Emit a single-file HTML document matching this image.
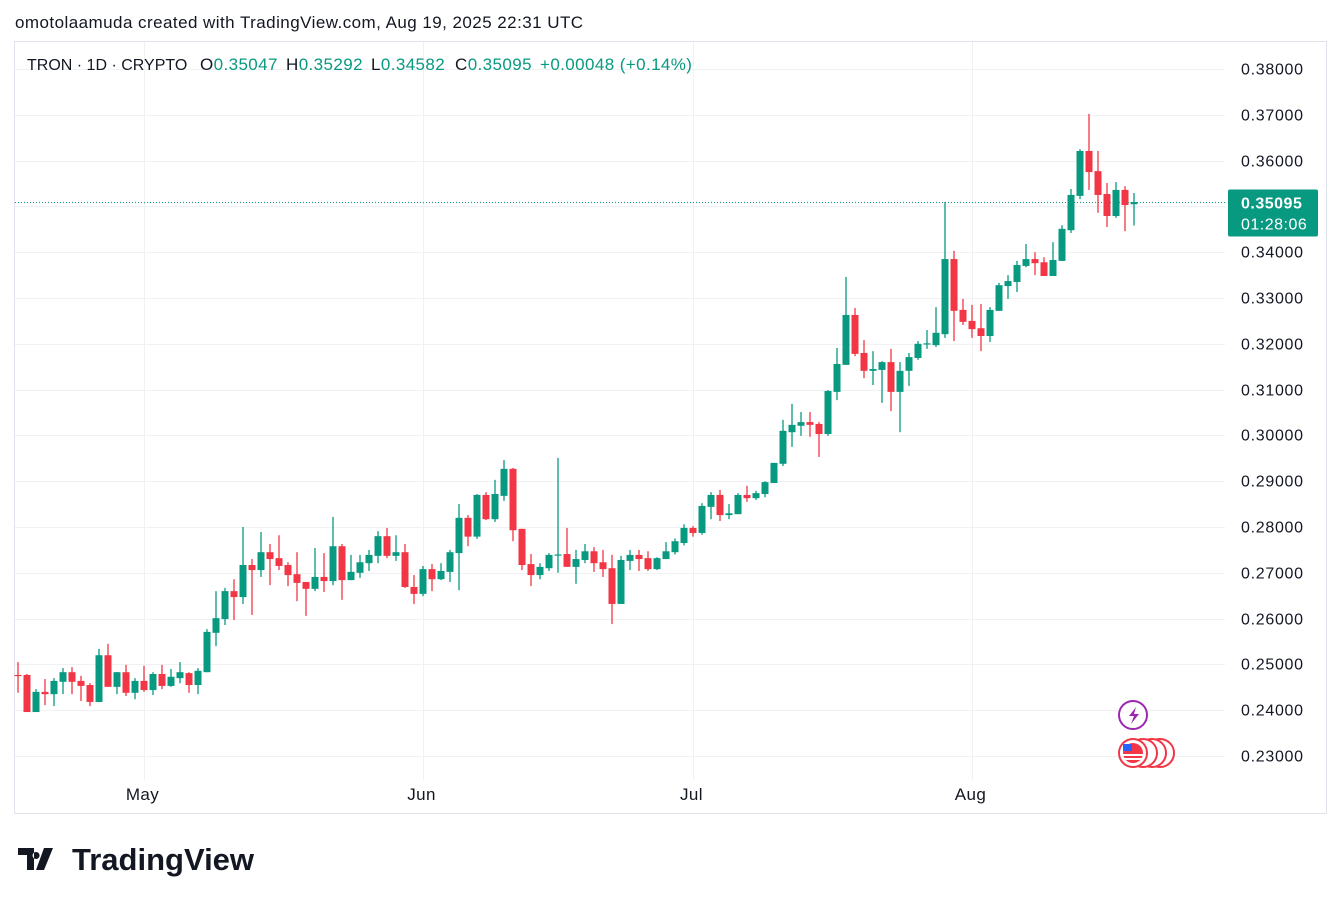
<!DOCTYPE html>
<html><head><meta charset="utf-8"><style>
body{margin:0;background:#fff;width:1341px;height:904px;overflow:hidden;font-family:"Liberation Sans",sans-serif}
svg{position:absolute;left:0;top:0}
</style></head><body>
<svg id="chart" width="1341" height="904" xmlns="http://www.w3.org/2000/svg" font-family="Liberation Sans, sans-serif">
<text x="15" y="28" font-size="17" letter-spacing="0.45" fill="#131722">omotolaamuda created with TradingView.com, Aug 19, 2025 22:31 UTC</text>
<rect x="14.5" y="41.5" width="1312" height="772" fill="none" stroke="#e0e3eb"/>
<g id="grid"></g>
<g id="candles"></g>
<g id="yaxis"></g>
<g id="xaxis"></g>
<text y="70" font-size="17" letter-spacing="0.4" fill="#131722"><tspan x="27" font-size="16" letter-spacing="0">TRON · 1D · CRYPTO</tspan><tspan x="200">O</tspan><tspan fill="#089981">0.35047</tspan><tspan x="286">H</tspan><tspan fill="#089981">0.35292</tspan><tspan x="371">L</tspan><tspan fill="#089981">0.34582</tspan><tspan x="455">C</tspan><tspan fill="#089981">0.35095</tspan><tspan x="540" fill="#089981">+0.00048 (+0.14%)</tspan></text>
<g><circle cx="1133" cy="715" r="14" fill="#fff" stroke="#9c27b0" stroke-width="2"/><path d="M1136 707 l-7 9 h5 l-3 8 l8 -10 h-5 z" fill="#9c27b0"/></g>
<g>
<circle cx="1160" cy="753" r="14" fill="#fff" stroke="#f23645" stroke-width="2"/>
<circle cx="1152" cy="753" r="14" fill="#fff" stroke="#f23645" stroke-width="2"/>
<circle cx="1143" cy="753" r="14" fill="#fff" stroke="#f23645" stroke-width="2"/>
<circle cx="1133" cy="753" r="14" fill="#fff" stroke="#f23645" stroke-width="2"/>
<circle cx="1133" cy="753" r="10" fill="#f23645"/><rect x="1123" y="744" width="9" height="7" fill="#2962ff"/><rect x="1123" y="754" width="20" height="2" fill="#fff"/><rect x="1123" y="758" width="20" height="2" fill="#fff"/>
</g>
<g><path d="M18 848 h16 v22 h-7 v-15 h-9 z M36 852 a3.5 3.5 0 1 0 0.1 0 z M44 848 h9 l-9 22 h-8 z" fill="#131722"/><text x="72" y="870" font-size="31" font-weight="bold" fill="#131722">TradingView</text></g>
</svg>
<script>
const opens=[.2477,.2477,.2396,.2440,.2435,.2462,.2483,.2464,.2455,.2418,.2520,.2451,.2483,.2438,.2464,.2444,.2479,.2453,.2470,.2481,.2455,.2483,.2569,.2599,.2660,.2647,.2717,.2706,.2745,.2732,.2717,.2697,.2680,.2665,.2691,.2682,.2758,.2684,.2700,.2721,.2737,.2780,.2737,.2745,.2669,.2654,.2708,.2686,.2702,.2743,.2820,.2779,.2870,.2817,.2868,.2927,.2796,.2719,.2695,.2710,.2739,.2741,.2713,.2728,.2747,.2723,.2710,.2632,.2726,.2739,.2732,.2708,.2730,.2745,.2765,.2798,.2787,.2844,.2870,.2826,.2828,.2870,.2863,.2872,.2896,.2938,.3007,.3021,.3029,.3025,.3003,.3095,.3154,.3263,.3180,.3141,.3143,.3160,.3095,.3141,.3169,.3200,.3197,.3221,.3385,.3274,.3250,.3234,.3217,.3272,.3326,.3335,.3370,.3385,.3378,.3348,.3381,.3448,.3523,.3621,.3577,.3527,.3479,.3536,.35047];
const highs=[.2505,.2479,.2446,.2468,.2470,.2492,.2494,.2475,.2459,.2534,.2545,.2483,.2499,.2470,.2497,.2483,.2499,.2490,.2505,.2483,.2492,.2577,.2660,.2667,.2686,.2800,.2730,.2789,.2763,.2782,.2723,.2745,.2680,.2754,.2743,.2822,.2763,.2739,.2739,.2750,.2791,.2798,.2782,.2763,.2695,.2715,.2719,.2721,.2750,.2850,.2826,.2872,.2876,.2903,.2946,.2929,.2796,.2741,.2721,.2743,.2951,.2798,.2750,.2763,.2756,.2750,.2739,.2737,.2750,.2750,.2747,.2734,.2767,.2775,.2806,.2802,.2852,.2876,.2881,.2850,.2874,.2890,.2879,.2900,.2940,.3034,.3069,.3051,.3051,.3029,.3099,.3191,.3346,.3278,.3208,.3184,.3162,.3189,.3160,.3180,.3206,.3230,.3280,.3510,.3403,.3298,.3285,.3287,.3280,.3333,.3350,.3381,.3418,.3400,.3389,.3422,.3459,.3538,.3625,.3702,.3621,.3551,.3553,.3544,.35292];
const lows=[.2438,.2396,.2396,.2411,.2409,.2435,.2435,.2420,.2409,.2418,.2451,.2435,.2431,.2424,.2440,.2433,.2446,.2451,.2459,.2438,.2435,.2483,.2540,.2586,.2597,.2632,.2608,.2691,.2673,.2706,.2671,.2638,.2606,.2660,.2658,.2673,.2641,.2684,.2689,.2704,.2721,.2732,.2726,.2667,.2632,.2649,.2660,.2684,.2680,.2662,.2758,.2774,.2815,.2811,.2857,.2769,.2706,.2671,.2686,.2704,.2700,.2713,.2676,.2721,.2702,.2691,.2588,.2632,.2706,.2704,.2704,.2706,.2730,.2740,.2760,.2779,.2783,.2817,.2813,.2817,.2828,.2855,.2859,.2865,.2896,.2933,.2975,.2999,.2997,.2953,.2999,.3077,.3154,.3173,.3125,.3110,.3071,.3053,.3007,.3108,.3165,.3189,.3193,.3213,.3206,.3241,.3213,.3184,.3204,.3272,.3298,.3313,.3367,.3350,.3348,.3348,.3381,.3442,.3516,.3536,.3486,.3455,.3475,.3446,.34582];
const closes=[.2476,.2396,.2440,.2435,.2464,.2483,.2462,.2453,.2418,.2520,.2451,.2483,.2438,.2464,.2444,.2479,.2453,.2473,.2483,.2455,.2486,.2571,.2601,.2660,.2647,.2717,.2706,.2745,.2730,.2715,.2695,.2678,.2665,.2691,.2682,.2758,.2684,.2702,.2723,.2739,.2780,.2737,.2745,.2669,.2654,.2708,.2686,.2704,.2745,.2820,.2779,.2870,.2817,.2872,.2927,.2793,.2717,.2695,.2713,.2739,.2740,.2713,.2730,.2747,.2721,.2708,.2632,.2728,.2739,.2730,.2708,.2732,.2747,.2769,.2798,.2787,.2846,.2870,.2826,.2830,.2870,.2863,.2874,.2898,.2940,.3010,.3023,.3029,.3023,.3003,.3097,.3156,.3263,.3178,.3141,.3145,.3160,.3095,.3141,.3171,.3200,.3201,.3224,.3385,.3272,.3248,.3232,.3217,.3274,.3328,.3337,.3372,.3385,.3376,.3348,.3383,.3451,.3525,.3621,.3575,.3525,.3479,.3536,.3503,.35095];
const priceTicks=[0.38,0.37,0.36,0.35,0.34,0.33,0.32,0.31,0.30,0.29,0.28,0.27,0.26,0.25,0.24,0.23];
const monthLabels=["May","Jun","Jul","Aug"];
const monthIndex=[14,45,75,106];
const lastPrice=0.35095;
const countdown="01:28:06";

const NS="http://www.w3.org/2000/svg";
const yScale=p=>69+(0.38-p)*4580;
const xScale=i=>18+9*i;
function mk(tag,attrs,parent){const e=document.createElementNS(NS,tag);for(const k in attrs)e.setAttribute(k,attrs[k]);parent.appendChild(e);return e;}
const grid=document.getElementById('grid'),cg=document.getElementById('candles'),ya=document.getElementById('yaxis'),xa=document.getElementById('xaxis');
priceTicks.forEach(p=>{
 const y=Math.round(yScale(p))+0.5;
 const l=mk('line',{x1:15,x2:1225,y1:y,y2:y,stroke:'#f0f1f3'},grid);
 
 
 const t=mk('text',{x:1241,y:y+5,'font-size':16,'letter-spacing':0.7,fill:'#131722'},ya);
 t.textContent=p.toFixed(5);
 
 
});
monthLabels.forEach((m,k)=>{
 const x=Math.round(xScale(monthIndex[k]))+0.5;
 const l=mk('line',{x1:x,x2:x,y1:42,y2:780,stroke:'#f0f1f3'},grid);
 
 
 const t=mk('text',{x:x-2,y:800,'font-size':17,'letter-spacing':0.4,fill:'#131722','text-anchor':'middle'},xa);
 t.textContent=m;
 
 
});
opens.forEach((o,i)=>{
 const c=closes[i],up=c>=o,col=up?'#089981':'#f23645';
 const x=xScale(i);
 const g=mk('g',{},cg);
 
 
 mk('line',{x1:x,x2:x,y1:yScale(highs[i]),y2:yScale(lows[i]),stroke:col,'stroke-width':1.3},g);
 const top=yScale(Math.max(o,c)),bot=yScale(Math.min(o,c));
 mk('rect',{x:x-3.5,y:top,width:7,height:Math.max(1.2,bot-top),fill:col},g);
});
const ly=Math.round(yScale(lastPrice))+0.5;
const pl=mk('line',{x1:15,x2:1225,y1:ly,y2:ly,stroke:'#089981','stroke-dasharray':'1 2'},grid);


const tag=mk('g',{},ya);


mk('rect',{x:1228,y:ly-13,width:90,height:47,rx:2,fill:'#089981'},tag);
const t1=mk('text',{x:1241,y:ly+6,'font-size':16,'letter-spacing':0.5,'font-weight':'bold',fill:'#fff'},tag);t1.textContent=lastPrice.toFixed(5);
const t2=mk('text',{x:1241,y:ly+27,'font-size':16,'letter-spacing':0.5,fill:'#fff'},tag);t2.textContent=countdown;
</script>
</body></html>
